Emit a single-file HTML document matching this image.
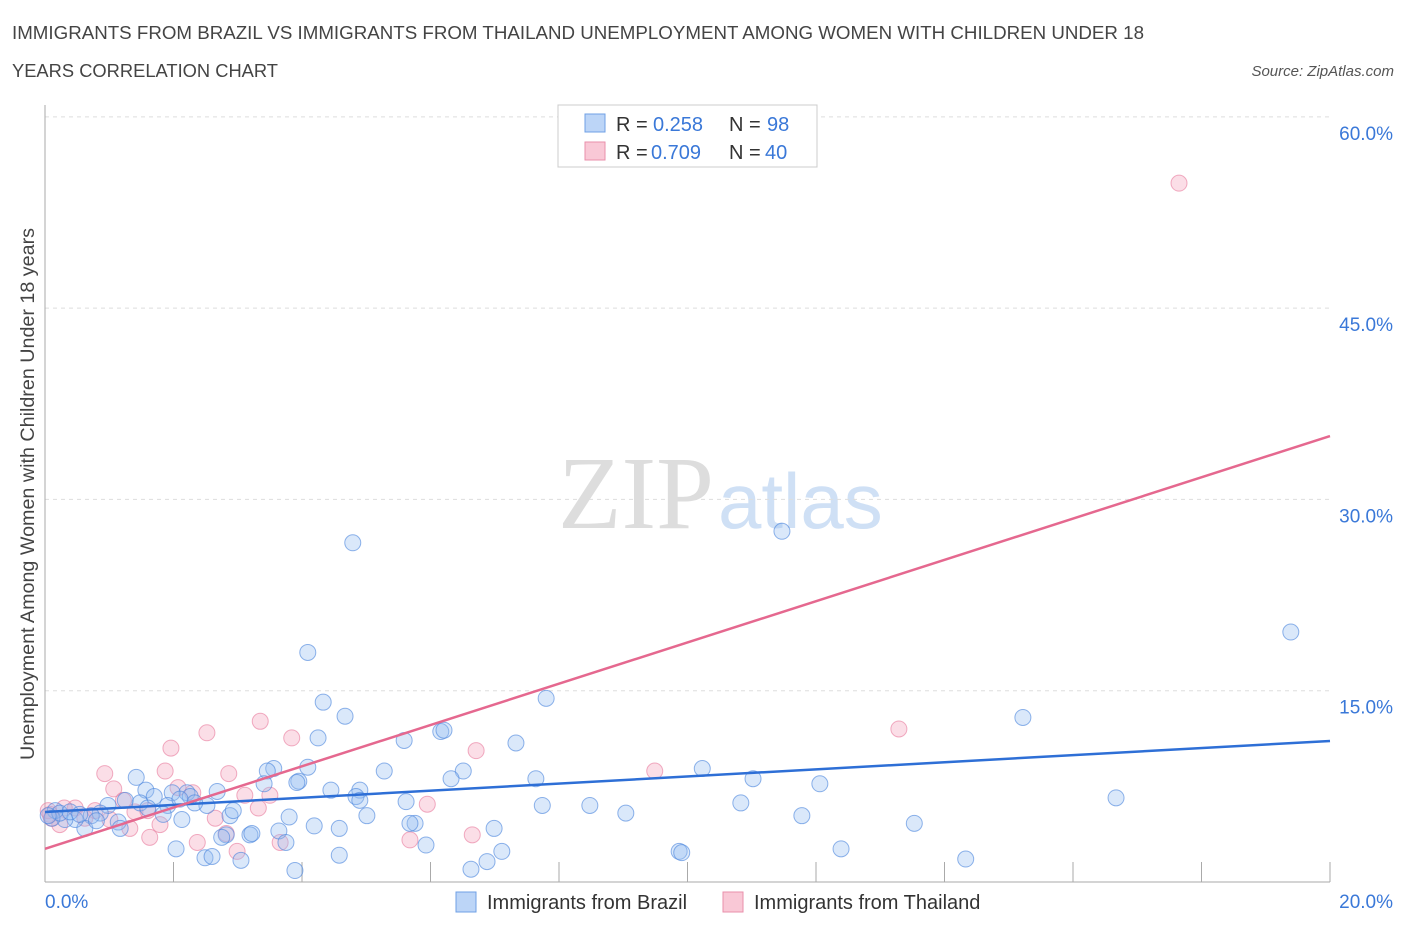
<!DOCTYPE html>
<html><head><meta charset="utf-8"><style>
body{margin:0;background:#fff;font-family:"Liberation Sans",sans-serif;}
</style></head><body>
<svg id="c" width="1406" height="930" xmlns="http://www.w3.org/2000/svg">
<text x="12" y="39" font-size="18" fill="#444" textLength="1132" lengthAdjust="spacingAndGlyphs">IMMIGRANTS FROM BRAZIL VS IMMIGRANTS FROM THAILAND UNEMPLOYMENT AMONG WOMEN WITH CHILDREN UNDER 18</text>
<text x="12" y="77" font-size="18" fill="#444" textLength="266" lengthAdjust="spacingAndGlyphs">YEARS CORRELATION CHART</text>
<text x="1394" y="76" font-size="15" fill="#555" font-style="italic" text-anchor="end">Source: ZipAtlas.com</text>
<text transform="translate(34,494) rotate(-90)" font-size="19" fill="#444" text-anchor="middle" textLength="532" lengthAdjust="spacingAndGlyphs">Unemployment Among Women with Children Under 18 years</text>
<text x="714" y="528" font-size="104" fill="#ddd" font-family="Liberation Serif,serif" text-anchor="end">ZIP</text>
<text x="718" y="528" font-size="78" fill="#cfe0f5">atlas</text>
<g id="grid"></g><g id="pts"></g><g id="lines"></g>
<g>
<rect x="558" y="105" width="259" height="62" fill="#fff" stroke="#ccc"/>
<rect x="585" y="114" width="20" height="18" fill="#bcd5f7" stroke="#6fa0e6"/>
<text x="616" y="131" font-size="20" fill="#333">R =</text><text x="653" y="131" font-size="20" fill="#3a78d8">0.258</text>
<text x="729" y="131" font-size="20" fill="#333">N =</text><text x="767" y="131" font-size="20" fill="#3a78d8">98</text>
<rect x="585" y="142" width="20" height="18" fill="#f9c8d6" stroke="#e98fab"/>
<text x="616" y="159" font-size="20" fill="#333">R =</text><text x="651" y="159" font-size="20" fill="#3a78d8">0.709</text>
<text x="729" y="159" font-size="20" fill="#333">N =</text><text x="765" y="159" font-size="20" fill="#3a78d8">40</text>
</g>
<g>
<rect x="456" y="892" width="20" height="20" fill="#bcd5f7" stroke="#6fa0e6"/>
<text x="487" y="909" font-size="20" fill="#333">Immigrants from Brazil</text>
<rect x="723" y="892" width="20" height="20" fill="#f9c8d6" stroke="#e98fab"/>
<text x="754" y="909" font-size="20" fill="#333">Immigrants from Thailand</text>
</g>
</svg>
<script>
const xTicks=[0,2,4,6,8,10,12,14,16,18,20];
const yTicks=[15,30,45,60];
const brazilX=[4.79,11.47,19.39,4.09,4.33,7.80,4.67,15.22,4.25,6.16,6.21,5.59,7.33,10.23,11.02,7.64,6.51,6.32,5.28,4.09,3.56,3.46,3.95,3.41,12.06,16.67,4.45,4.90,4.84,4.90,5.62,7.74,8.48,9.04,10.83,11.78,13.53,5.76,5.68,6.99,5.01,4.58,4.19,3.80,3.64,3.19,2.82,2.75,3.22,2.88,2.93,2.68,2.21,2.26,2.52,2.33,1.98,1.57,1.70,1.42,1.25,1.48,1.91,1.84,2.13,0.98,0.86,0.72,1.14,1.17,0.62,0.47,0.31,0.16,0.11,0.23,0.39,0.54,2.04,2.49,2.60,3.05,3.75,3.89,4.58,5.93,7.11,6.88,6.63,9.87,9.91,12.39,14.33,3.92,0.05,0.8,1.6,2.1];
const brazilY=[26.6,27.5,19.6,18.0,14.1,14.4,13.0,12.9,11.3,11.8,11.9,11.1,10.9,8.9,8.1,8.1,8.7,8.1,8.7,9.0,8.9,8.7,7.9,7.7,7.7,6.6,7.2,7.2,6.7,6.4,6.3,6.0,6.0,5.4,6.2,5.2,4.6,4.6,4.6,4.2,5.2,4.2,4.4,5.1,4.0,3.7,3.7,3.5,3.8,5.2,5.6,7.1,7.0,6.7,6.0,6.2,7.0,7.2,6.7,8.2,6.4,6.2,6.0,5.3,4.9,6.0,5.4,5.2,4.7,4.2,4.2,4.9,4.9,5.6,5.0,5.4,5.5,5.3,2.6,1.9,2.0,1.7,3.1,0.9,2.1,2.9,2.4,1.6,1.0,2.4,2.3,2.6,1.8,7.8,5.2,4.8,5.8,6.5];
const thaiX=[17.65,13.29,3.35,2.52,3.84,1.96,6.71,0.93,1.87,2.86,9.49,1.07,2.07,2.30,3.11,3.50,1.22,3.32,5.95,0.47,0.78,1.40,1.60,2.65,1.79,1.01,1.63,2.37,2.82,3.66,5.68,6.65,2.99,0.08,0.05,0.23,0.62,1.32,0.3,0.1];
const thaiY=[54.8,12.0,12.6,11.7,11.3,10.5,10.3,8.5,8.7,8.5,8.7,7.3,7.4,7.0,6.8,6.8,6.4,5.8,6.1,5.8,5.6,5.5,5.6,5.0,4.5,4.9,3.5,3.1,3.8,3.1,3.3,3.7,2.4,5.3,5.6,4.5,5.0,4.2,5.8,5.0];
const brazilLine=[5.49,11.06];
const thaiLine=[2.6,34.97];
const X=v=>45+v*64.25, Y=v=>882-v*12.753;
const NS='http://www.w3.org/2000/svg';
function mk(t,a,p){const e=document.createElementNS(NS,t);for(const k in a)e.setAttribute(k,a[k]);p.appendChild(e);return e;}
const g=document.getElementById('grid');
yTicks.forEach(v=>{
 const l=mk('line',{x1:45,x2:1330,y1:Y(v),y2:Y(v),stroke:'#ddd','stroke-dasharray':'4,4'},g);
 
 
 const t=mk('text',{x:1393,y:Y(v)+23,'font-size':19,fill:'#3a78d8','text-anchor':'end'},g);t.textContent=v.toFixed(1)+'%';
 
 
});
mk('line',{x1:45,x2:45,y1:105,y2:882,stroke:'#aaa'},g);
mk('line',{x1:45,x2:1330,y1:882,y2:882,stroke:'#aaa'},g);
xTicks.forEach(v=>{const l=mk('line',{x1:X(v),x2:X(v),y1:862,y2:882,stroke:'#aaa'},g);
 
 });
[[0,'start',45],[20,'end',1393]].forEach(([v,a,x])=>{const t=mk('text',{x:x,y:908,'font-size':19,fill:'#3a78d8','text-anchor':a},g);t.textContent=v.toFixed(1)+'%';
 
 });
const p=document.getElementById('pts');
thaiX.forEach((x,i)=>{const c=mk('circle',{cx:X(x),cy:Y(thaiY[i]),r:8,fill:'rgba(244,160,186,0.35)',stroke:'rgba(232,120,155,0.6)','stroke-width':1},p);
 
 });
brazilX.forEach((x,i)=>{const c=mk('circle',{cx:X(x),cy:Y(brazilY[i]),r:8,fill:'rgba(150,190,240,0.35)',stroke:'rgba(70,130,220,0.6)','stroke-width':1},p);
 
 });
const L=document.getElementById('lines');
const b=mk('line',{x1:X(0),x2:X(20),y1:Y(brazilLine[0]),y2:Y(brazilLine[1]),stroke:'#2e6fd6','stroke-width':2.5},L);


const t=mk('line',{x1:X(0),x2:X(20),y1:Y(thaiLine[0]),y2:Y(thaiLine[1]),stroke:'#e5688f','stroke-width':2.5},L);


</script>
</body></html>
